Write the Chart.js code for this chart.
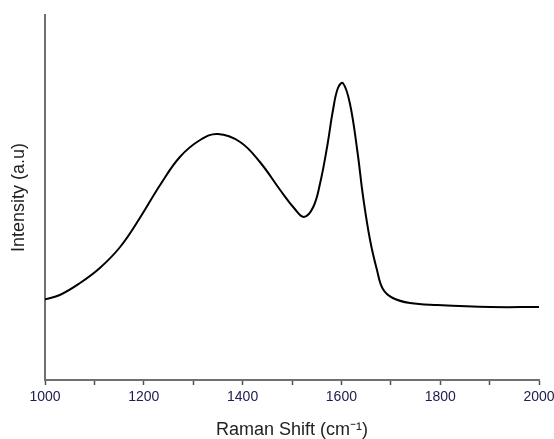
<!DOCTYPE html>
<html>
<head>
<meta charset="utf-8">
<script src="https://cdn.jsdelivr.net/npm/chart.js@4/dist/chart.umd.min.js"></script>
<style>
  html, body { margin: 0; padding: 0; background: #ffffff; }
  #wrap { width: 554px; height: 439px; }
</style>
</head>
<body>
<div id="wrap"><canvas id="c" width="554" height="439"></canvas></div>
<script>
// Raman shift (cm^-1) and intensity (a.u.)
const ramanShift = [1000, 1030, 1071, 1111, 1152, 1192, 1233, 1273, 1314, 1350, 1395, 1435, 1476, 1504, 1524, 1543, 1557, 1571, 1583, 1593, 1603, 1617, 1632, 1644, 1658, 1672, 1684, 1704, 1739, 1794, 1901, 2000];
const intensity  = [80.7, 85, 97, 112, 133, 162, 195, 223, 240, 246, 238, 218, 190, 172, 163, 173, 197, 233, 270, 292, 297, 277, 230, 183, 140, 110, 91, 82, 77, 75, 73, 73];
const xTickLabels = [1000, 1200, 1400, 1600, 1800, 2000];
const xTitle = 'Raman Shift (cm\u207B\u00B9)';
const yTitle = 'Intensity (a.u)';

const points = ramanShift.map((x, i) => ({ x: x, y: intensity[i] }));
const FONT = '"Liberation Sans", Arial, sans-serif';

new Chart(document.getElementById('c'), {
  type: 'line',
  data: {
    datasets: [{
      data: points,
      borderColor: '#000000',
      borderWidth: 2,
      pointRadius: 0,
      fill: false,
      tension: 0.4
    }]
  },
  options: {
    responsive: false,
    animation: false,
    events: [],
    layout: { padding: { top: 15, right: 15, left: 0, bottom: 0 } },
    plugins: { legend: { display: false }, tooltip: { enabled: false } },
    scales: {
      x: {
        type: 'linear',
        min: 1000,
        max: 2000,
        afterFit: (s) => { s.height = 59; s.paddingLeft = 0; s.paddingRight = 0; },
        border: { display: true, color: '#707070', width: 2 },
        grid: { display: true, drawOnChartArea: false, drawTicks: true, tickLength: 5, tickColor: '#505050', tickWidth: 1.5 },
        ticks: {
          stepSize: 100,
          autoSkip: false,
          maxRotation: 0,
          padding: 4,
          color: '#202050',
          font: { family: FONT, size: 14 },
          callback: (v) => xTickLabels.includes(v) ? String(v) : ''
        },
        title: {
          display: true,
          text: xTitle,
          color: '#222222',
          font: { family: FONT, size: 18, lineHeight: 1 },
          padding: { top: 0, bottom: 0 }
        }
      },
      y: {
        type: 'linear',
        min: 0,
        max: 365,
        afterFit: (s) => { s.width = 45; },
        border: { display: true, color: '#707070', width: 2 },
        grid: { display: true, drawOnChartArea: false, drawTicks: false },
        ticks: { display: false },
        title: {
          display: true,
          text: yTitle,
          color: '#222222',
          font: { family: FONT, size: 18, lineHeight: 1.2 },
          padding: { top: 8, bottom: 0 }
        }
      }
    }
  }
});
</script>
</body>
</html>
